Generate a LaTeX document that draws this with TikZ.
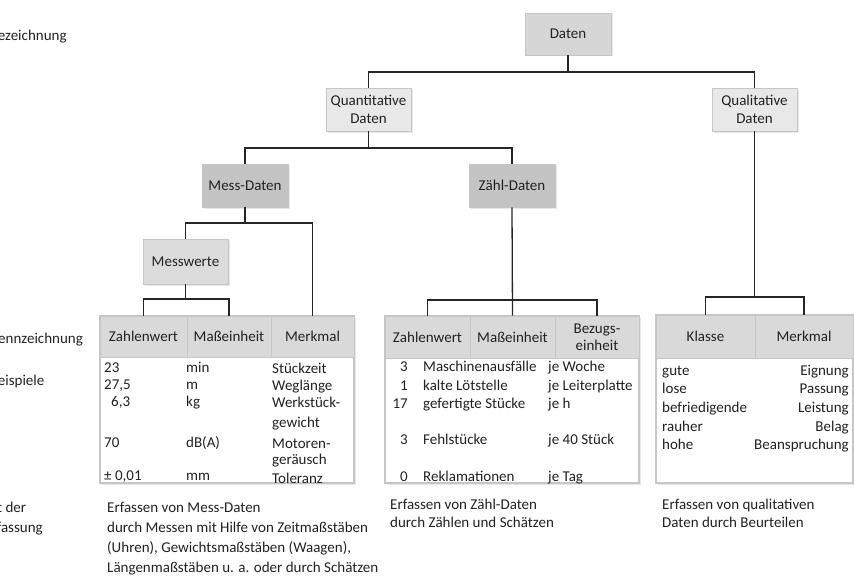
\documentclass[tikz,border=0pt]{standalone}
\usepackage{fontspec}
\setmainfont{Carlito}
\usetikzlibrary{shadows}
\definecolor{bxA}{HTML}{D6D6D6}
\definecolor{bxB}{HTML}{E8E8E8}
\definecolor{bxC}{HTML}{C4C4C4}
\definecolor{bxD}{HTML}{DCDCDC}
\definecolor{hdr}{HTML}{D9D9D9}
\definecolor{bord}{HTML}{C6C6C6}
\definecolor{txt}{HTML}{222222}
\begin{document}
\begin{tikzpicture}[x=1pt,y=-1pt,
  font=\fontsize{15}{18}\selectfont, text=txt,
  box/.style={draw=bord, line width=0.8pt, inner sep=0pt, align=center,
    drop shadow={opacity=0.18, shadow xshift=1.5pt, shadow yshift=-1.5pt}},
  conn/.style={draw=black!85, line width=1.3pt},
  hcell/.style={draw=bord, fill=hdr, inner sep=0pt, align=center, line width=0.8pt},
  tframe/.style={draw=bord, fill=white, line width=1.1pt, inner sep=0pt,
    drop shadow={opacity=0.18, shadow xshift=1.5pt, shadow yshift=-1.5pt}},
  tx/.style={anchor=base west, inner sep=0pt},
  txr/.style={anchor=base east, inner sep=0pt},
  para/.style={anchor=north west, inner sep=0pt, align=left},
]
\useasboundingbox (0,0) rectangle (854,578);
\clip (0,0) rectangle (854,578);

% row labels (clipped at the left edge, as in the reference)
\node[tx] (lbez) at (-10.5,40.5) {Bezeichnung};
\node[tx] (lkenn) at (-9.5,343.5) {Kennzeichnung};
\node[tx] (lbsp) at (-10.5,385.5) {Beispiele};
\node[tx] (lart) at (-17,512) {Art der};
\node[tx] (lerf) at (-16,532) {Erfassung};

% tree boxes
\node[box, fill=bxA, minimum width=86pt, minimum height=42pt] (daten) at (568,34) {Daten};
\node[box, fill=bxB, minimum width=85pt, minimum height=43pt] (quant) at (368.5,109.5) {Quantitative\\Daten};
\node[box, fill=bxB, minimum width=85pt, minimum height=43pt] (qual) at (754.5,109.5) {Qualitative\\Daten};
\node[box, fill=bxC, minimum width=86pt, minimum height=43pt] (mess) at (245,185.5) {Mess-Daten};
\node[box, fill=bxC, minimum width=86pt, minimum height=43pt] (zaehl) at (512,185.5) {Zähl-Daten};
\node[box, fill=bxD, minimum width=85pt, minimum height=45pt] (mw) at (185.5,261.5) {Messwerte};

% table 1 (Mess-Daten)
\node[tframe, minimum width=254pt, minimum height=167pt] (t1) at (227,399.5) {};
\node[hcell, minimum width=87pt, minimum height=41pt] (h11) at (143.5,336.5) {Zahlenwert};
\node[hcell, minimum width=84pt, minimum height=41pt] (h12) at (229,336.5) {Maßeinheit};
\node[hcell, minimum width=83pt, minimum height=41pt] (h13) at (312.5,336.5) {Merkmal};

% table 2 (Zähl-Daten)
\node[tframe, minimum width=254pt, minimum height=167pt] (t2) at (512,399.5) {};
\node[hcell, minimum width=85pt, minimum height=42pt] (h21) at (427.5,337) {Zahlenwert};
\node[hcell, minimum width=85pt, minimum height=42pt] (h22) at (512.5,337) {Maßeinheit};
\node[hcell, minimum width=84pt, minimum height=42pt] (h23) at (597,337) {Bezugs-\\[-1pt]einheit};

% table 3 (qualitativ)
\node[tframe, minimum width=197pt, minimum height=168pt] (t3) at (754.5,399) {};
\node[hcell, minimum width=99pt, minimum height=43pt] (h31) at (705.5,336.5) {Klasse};
\node[hcell, minimum width=98pt, minimum height=43pt] (h32) at (804,336.5) {Merkmal};

% connectors
\coordinate (jd) at (568,72);
\coordinate (jq) at (368.5,148);
\coordinate (jm) at (245,223);
\coordinate (jw) at (185.5,299);
\coordinate (jz) at (512,300);
\coordinate (jl) at (754.5,297);
\draw[conn] (daten.south) -- (jd);
\draw[conn] (quant.north) |- (jd) -| (qual.north);
\draw[conn] (quant.south) -- (jq);
\draw[conn] (mess.north) |- (jq) -| (zaehl.north);
\draw[conn] (mess.south) -- (jm);
\draw[conn] (mw.north) |- (jm) -| (h13.north);
\draw[conn] (mw.south) -- (jw);
\draw[conn] (h11.north) |- (jw) -| (h12.north);
\draw[conn] (zaehl.south) -- (h22.north);
\draw[conn] (h21.north) |- (jz) -| (h23.north);
\draw[conn] (qual.south) -- (jl);
\draw[conn] (h31.north) |- (jl) -| (h32.north);

% table 1 body
\node[tx] (a1) at (104,372) {23};
\node[tx] (a2) at (104,389) {27,5};
\node[tx] (a3) at (111,406) {6,3};
\node[tx] (a4) at (104,447) {70};
\node[tx] (a5) at (104,480.5) {± 0,01};
\node[tx] (b1) at (186,372) {min};
\node[tx] (b2) at (186,389) {m};
\node[tx] (b3) at (186,406) {kg};
\node[tx] (b4) at (186,447) {dB(A)};
\node[tx] (b5) at (186,480.5) {mm};
\node[tx] (c1) at (272,373) {Stückzeit};
\node[tx] (c2) at (272,390) {Weglänge};
\node[tx] (c3) at (272,407) {Werkstück-};
\node[tx] (c4) at (272,427) {gewicht};
\node[tx] (c5) at (272,448) {Motoren-};
\node[tx] (c6) at (272,464.5) {geräusch};
\node[tx] (c7) at (272,483) {Toleranz};

% table 2 body
\node[txr] (d1) at (408,371.5) {3};
\node[txr] (d2) at (408,390) {1};
\node[txr] (d3) at (408,408.5) {17};
\node[txr] (d4) at (408,444.5) {3};
\node[txr] (d5) at (408,481.5) {0};
\node[tx] (e1) at (423,371.5) {Maschinenausfälle};
\node[tx] (e2) at (423,390) {kalte Lötstelle};
\node[tx] (e3) at (423,408.5) {gefertigte Stücke};
\node[tx] (e4) at (423,444.5) {Fehlstücke};
\node[tx] (e5) at (423,481.5) {Reklamationen};
\node[tx] (f1) at (548,371.5) {je Woche};
\node[tx] (f2) at (548,390) {je Leiterplatte};
\node[tx] (f3) at (548,408.5) {je h};
\node[tx] (f4) at (548,444.5) {je 40 Stück};
\node[tx] (f5) at (548,481.5) {je Tag};

% table 3 body
\node[tx] (g1) at (662,375.5) {gute};
\node[tx] (g2) at (662,393.5) {lose};
\node[tx] (g3) at (662,412.5) {befriedigende};
\node[tx] (g4) at (662,431) {rauher};
\node[tx] (g5) at (662,449.5) {hohe};
\node[txr] (k1) at (849,375.5) {Eignung};
\node[txr] (k2) at (849,393.5) {Passung};
\node[txr] (k3) at (849,412.5) {Leistung};
\node[txr] (k4) at (849,431) {Belag};
\node[txr] (k5) at (849,449.5) {Beanspruchung};

% bottom descriptions
\node[para, font=\fontsize{15}{20}\selectfont] (p1) at (107,502) {Erfassen von Mess-Daten\\durch Messen mit Hilfe von Zeitmaßstäben\\(Uhren), Gewichtsmaßstäben (Waagen),\\Längenmaßstäben u. a. oder durch Schätzen};
\node[para] (p2) at (390,498.5) {Erfassen von Zähl-Daten\\durch Zählen und Schätzen};
\node[para] (p3) at (662,498.5) {Erfassen von qualitativen\\Daten durch Beurteilen};
\end{tikzpicture}
\end{document}
